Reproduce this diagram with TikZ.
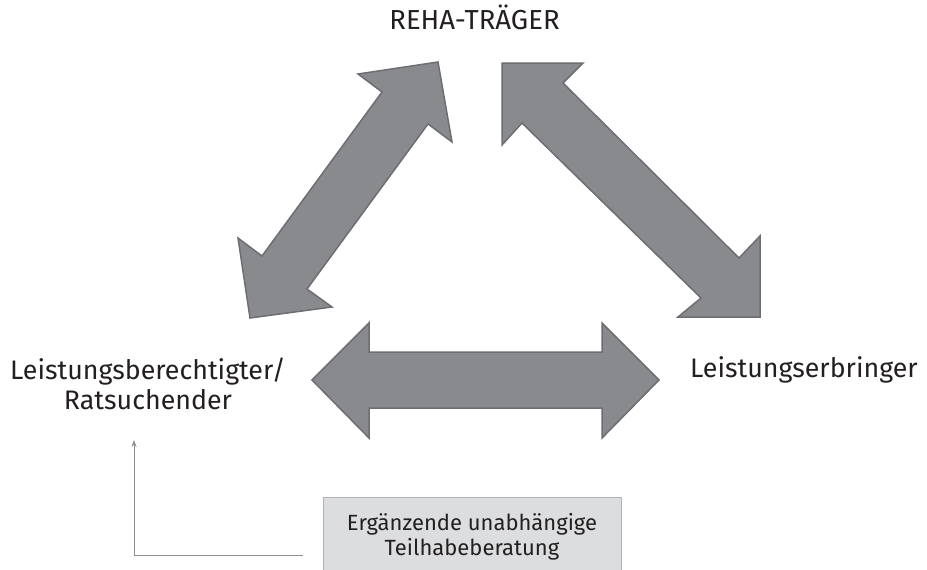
\documentclass[tikz,border=0pt]{standalone}
\usepackage{fontspec}
\setmainfont{Fira Sans}
\usetikzlibrary{arrows.meta}
\definecolor{arrowfill}{HTML}{898A8E}
\definecolor{arrowline}{HTML}{6D6E71}
\definecolor{boxfill}{HTML}{DCDDDF}
\definecolor{boxline}{HTML}{B2B2B4}
\definecolor{connline}{HTML}{8F8F91}
\definecolor{textcol}{HTML}{231F20}
\begin{document}
\begin{tikzpicture}[x=1pt,y=-1pt,
  bigarrow/.style={fill=arrowfill,draw=arrowline,line width=1.5pt,line join=miter},
  sidelabel/.style={inner sep=0pt,text=textcol,font=\fontsize{26.8}{30}\selectfont},
  toplabel/.style={inner sep=0pt,text=textcol,font=\fontsize{27.5}{30}\selectfont},
  infobox/.style={draw=boxline,fill=boxfill,line width=1pt,minimum width=298pt,minimum height=80pt,
    inner sep=0pt,align=center,text=textcol,font=\fontsize{22}{25}\selectfont},
  conn/.style={draw=connline,line width=1pt,-{Stealth[length=7pt,width=5pt]}}]
\useasboundingbox (0,0) rectangle (927,570);
\begin{scope}
\clip (0,0) rectangle (927,570);
% labels
\node[toplabel,anchor=base] (reha) at (474.5,30) {REHA-TRÄGER};
\node[sidelabel,anchor=base west] (erbr) at (690,377) {Leistungserbringer};
\node[sidelabel,align=center,anchor=center] (berech) at (148,384) {Leistungsberechtigter/\\Ratsuchender};
% box
\node[infobox] (beratung) at (472,537) {Ergänzende unabhängige\\Teilhabeberatung};
% big arrows
\path[bigarrow] (438,62) -- (452,142) -- (428,124) -- (307,289) -- (332,307) -- (250,318)
  -- (238,238) -- (262,256) -- (382,92) -- (358,74) -- cycle;
\path[bigarrow] (502,63) -- (583,63) -- (563,83) -- (739,258) -- (760,236) -- (760,317)
  -- (678,317) -- (701,298) -- (522,123) -- (502,145) -- cycle;
\path[bigarrow] (312,380) -- (369,323) -- (369,352) -- (602,352) -- (602,323) -- (659,380)
  -- (602,438) -- (602,408) -- (369,408) -- (369,438) -- cycle;
% connector
\coordinate (connstart) at ([xshift=-20pt]beratung.west |- 0,555);
\coordinate (conntip) at (134,440);
\draw[conn] (connstart) -| (conntip);
\end{scope}
\end{tikzpicture}
\end{document}
